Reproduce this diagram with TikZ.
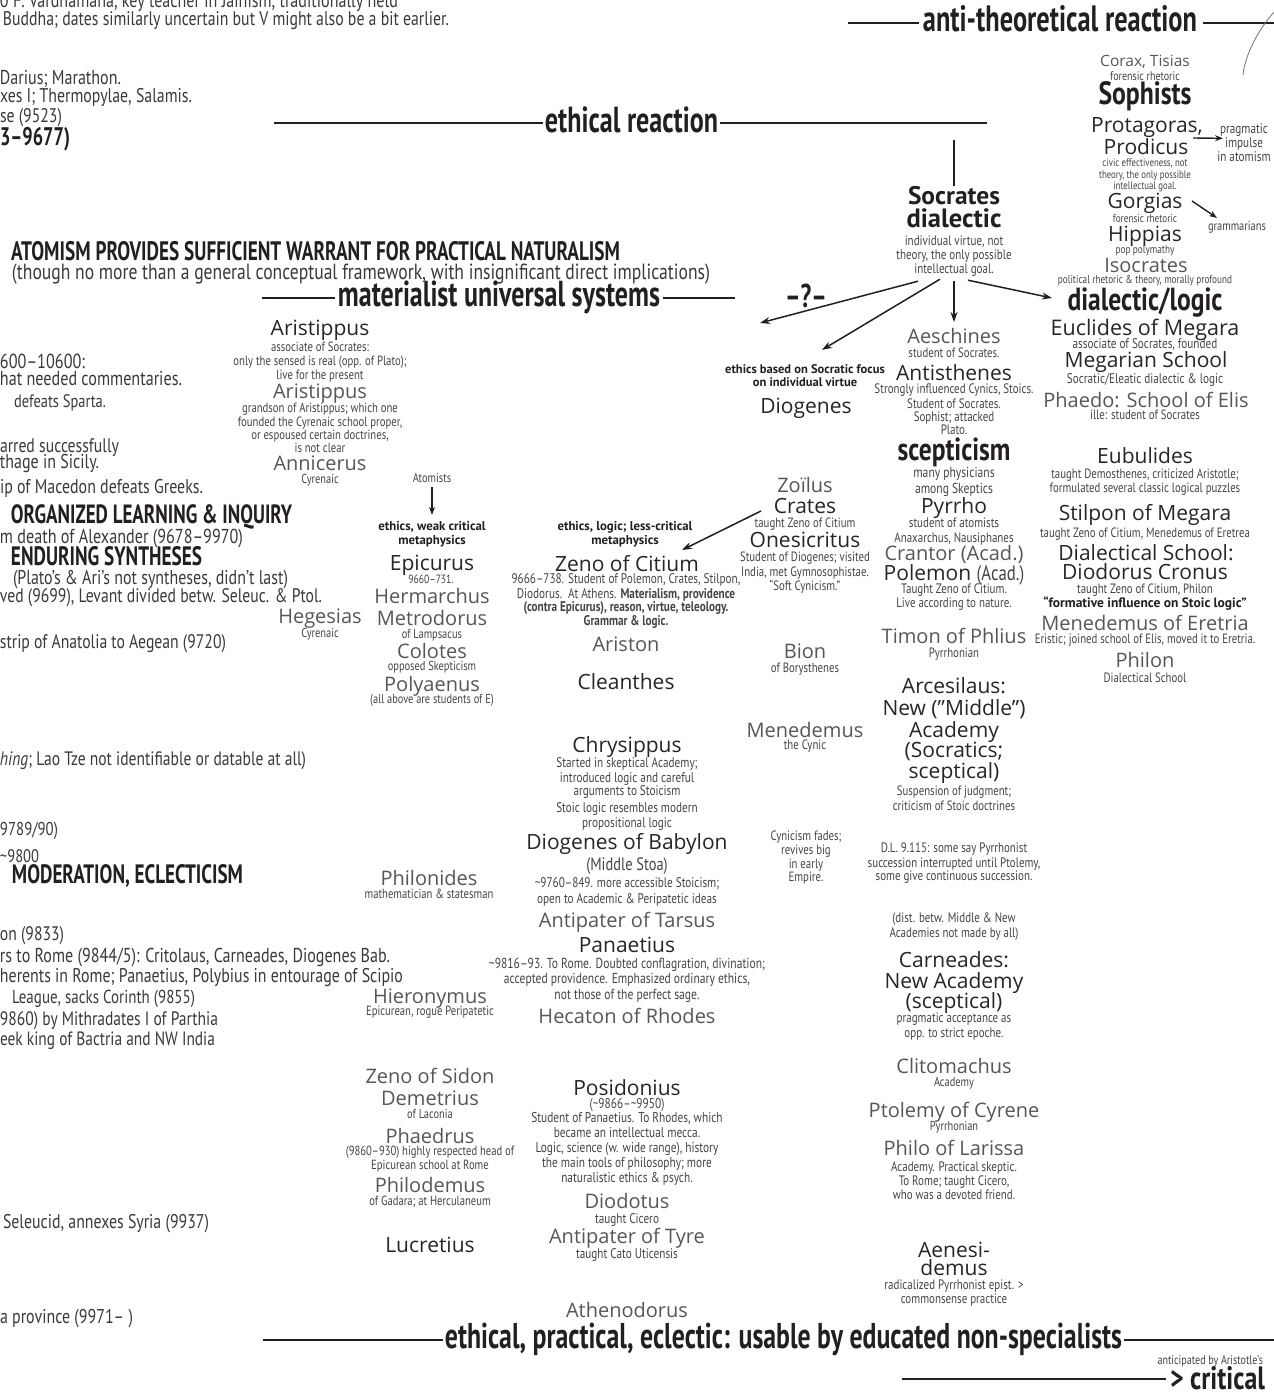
\documentclass[tikz,border=0pt]{standalone}
\usepackage{fontspec}
\usepackage{graphicx}
\usetikzlibrary{arrows.meta,calc}
\newfontfamily\cnd[FakeStretch=0.8]{PT Sans}
\newfontfamily\hdf[FakeStretch=0.72]{PT Sans}
\newfontfamily\pts{PT Sans}
\newfontfamily\nm{Open Sans}
\newcommand\myfs[2]{\fontsize{#1}{#2}\selectfont}
\newcommand\rw[2]{\resizebox{#1pt}{!}{#2}}
\definecolor{ink}{HTML}{231F20}
\definecolor{leftc}{HTML}{3A3A3A}
\definecolor{notec}{HTML}{454545}
\definecolor{lightc}{HTML}{575757}
\definecolor{darkc}{HTML}{262626}
\tikzset{
  every node/.style={inner sep=0pt, outer sep=0pt},
  lt/.style={anchor=base west, font=\cnd\myfs{20}{22}, text=leftc},
  ltb/.style={anchor=base west, font=\hdf\bfseries\myfs{20}{22}, text=ink},
  hd/.style={anchor=base, font=\hdf\bfseries\myfs{24}{26}, text=ink},
  hdc/.style={anchor=base, font=\cnd\bfseries\myfs{24}{26}, text=ink},
  nmL/.style={anchor=base, font=\nm\myfs{20}{22}, text=lightc},
  nmD/.style={anchor=base, font=\nm\myfs{21}{23}, text=darkc},
  nt/.style 2 args={anchor=north, yshift={0.7*#2}, align=center, font=\cnd\myfs{#1}{#2}, text=notec},
  ntb/.style 2 args={nt={#1}{#2}, font=\pts\bfseries\myfs{#1}{#2}, text=ink},
  cn/.style={anchor=base, font=\cnd\myfs{18}{20}, text=notec},
  rule/.style={line width=2pt, draw=ink},
  arr/.style={-{Stealth[length=10pt,width=7pt]}, line width=1.5pt, draw=ink},
  arrs/.style={-{Stealth[length=8pt,width=6pt]}, line width=1.4pt, draw=ink},
}
\begin{document}
\begin{tikzpicture}[x=1pt,y=-1pt]
\path[use as bounding box] (0,0) rectangle (1274,1395);
\clip (0,0) rectangle (1274,1395);
\fill[white] (0,0) rectangle (1274,1395);

% ---------- left column texts ----------
\node[lt] (t1) at (0,7) {\rw{398}{0 F. Vardhamana, key teacher in Jainism, traditionally held}};
\node[lt] (t2) at (3,25) {\rw{446}{Buddha; dates similarly uncertain but V might also be a bit earlier.}};
\node[lt] (t3) at (0,84) {\rw{121}{Darius; Marathon.}};
\node[lt] (t4) at (0,102) {\rw{192}{xes I; Thermopylae, Salamis.}};
\node[lt] (t5) at (0,122) {\rw{62}{se (9523)}};
\node[ltb] (t6) at (0,145) {\rw{70}{3–9677)}};
\node[ltb] (t7) at (11,260) {\rw{609}{ATOMISM PROVIDES SUFFICIENT WARRANT FOR PRACTICAL NATURALISM}};
\node[lt] (t8) at (12,279) {\rw{698}{(though no more than a general conceptual framework, with insignificant direct implications)}};
\node[lt] (t9) at (0,368) {\rw{85}{600–10600:}};
\node[lt] (t10) at (0,385) {\rw{182}{hat needed commentaries.}};
\node[lt] (t11) at (14,407) {\rw{92}{defeats Sparta.}};
\node[lt] (t12) at (0,452) {\rw{119}{arred successfully}};
\node[lt] (t13) at (0,468) {\rw{99}{thage in Sicily.}};
\node[lt] (t14) at (0,493) {\rw{203}{ip of Macedon defeats Greeks.}};
\node[ltb] (t15) at (11,523) {\rw{281}{ORGANIZED LEARNING \& INQUIRY}};
\node[lt] (t16) at (0,543) {\rw{243}{m death of Alexander (9678–9970)}};
\node[ltb] (t17) at (11,565) {\rw{191}{ENDURING SYNTHESES}};
\node[lt] (t18) at (13,584) {\rw{275}{(Plato’s \& Ari’s not syntheses, didn’t last)}};
\node[lt] (t19) at (0,602) {\rw{322}{ved (9699), Levant divided betw. Seleuc. \& Ptol.}};
\node[lt] (t20) at (0,648) {\rw{226}{strip of Anatolia to Aegean (9720)}};
\node[lt] (t21) at (0,765) {\rw{306}{{\itshape hing}; Lao Tze not identifiable or datable at all)}};
\node[lt] (t22) at (0,835) {\rw{58}{9789/90)}};
\node[lt] (t23) at (0,862) {\rw{39}{\textasciitilde 9800}};
\node[ltb] (t24) at (12,883) {\rw{231}{MODERATION, ECLECTICISM}};
\node[lt] (t25) at (0,940) {\rw{64}{on (9833)}};
\node[lt] (t26) at (0,962) {\rw{390}{rs to Rome (9844/5): Critolaus, Carneades, Diogenes Bab.}};
\node[lt] (t27) at (0,982) {\rw{403}{herents in Rome; Panaetius, Polybius in entourage of Scipio}};
\node[lt] (t28) at (12,1003) {\rw{183}{League, sacks Corinth (9855)}};
\node[lt] (t29) at (0,1025) {\rw{218}{9860) by Mithradates I of Parthia}};
\node[lt] (t30) at (0,1045) {\rw{215}{eek king of Bactria and NW India}};
\node[lt] (t31) at (3,1228) {\rw{206}{Seleucid, annexes Syria (9937)}};
\node[lt] (t32) at (0,1323) {\rw{133}{a province (9971– )}};

% ---------- headlines ----------
\node[hd] (antith) at (1060,31) {\rw{274}{anti-theoretical reaction}};
\draw[rule] ($(antith.base west)+(-75,-8)$) -- ($(antith.base west)+(-4,-8)$);
\draw[rule] ($(antith.base east)+(6,-8)$) -- ($(antith.base east)+(77,-8)$);
\draw[black!55, line width=0.8pt] (1274,12) .. controls (1258,30) and (1245,55) .. (1243,75);

\node[hd] (er) at (631.5,132) {\rw{173}{ethical reaction}};
\draw[rule] ($(er.base west)+(-271,-9)$) -- ($(er.base west)+(-2,-9)$);
\draw[rule] ($(er.base east)+(2,-9)$) -- ($(er.base east)+(269,-9)$);

\node[hd] (mat) at (499,306) {\rw{322}{materialist universal systems}};
\draw[rule] ($(mat.base west)+(-76,-8)$) -- ($(mat.base west)+(-3,-8)$);
\draw[rule] ($(mat.base east)+(3,-8)$) -- ($(mat.base east)+(75,-8)$);
\node[hd] (qm) at (806,307) {\rw{42}{–?–}};

\node[hd] (bot) at (783.5,1348) {\rw{677}{ethical, practical, eclectic: usable by educated non-specialists}};
\draw[rule] ($(bot.base west)+(-182,-8)$) -- ($(bot.base west)+(-2,-8)$);
\draw[rule] ($(bot.base east)+(2,-8)$) -- ($(bot.base east)+(152,-8)$);

\node[nt={12.6}{13}, anchor=north east] (antic) at (1263,1364) {\strut anticipated by Aristotle’s};
\node[hdc, anchor=base east] (crit) at (1265,1389) {\rw{95}{> critical}};
\draw[rule] ($(crit.base west)+(-268,-10)$) -- ($(crit.base west)+(-4,-10)$);

% ---------- Cyrenaics ----------
\node[nmD] (arist1) at (320,335) {Aristippus};
\node[nt={13.4}{13.5}] (arist1n) at (320,351) {\strut associate of Socrates:\\only the sensed is real (opp. of Plato);\\live for the present};
\node[nmL] (arist2) at (320,398) {Aristippus};
\node[nt={13.4}{13}] (arist2n) at (320,412) {\strut grandson of Aristippus; which one\\founded the Cyrenaic school proper,\\or espoused certain doctrines,\\is not clear};
\node[nmL] (annic) at (320,470) {Annicerus};
\node[nt={13}{13.5}] (annicn) at (320,483) {\strut Cyrenaic};
\node[nmL] (heges) at (320,623) {Hegesias};
\node[nt={13}{13.5}] (hegesn) at (320,637) {\strut Cyrenaic};

% ---------- Epicureans ----------
\node[nt={13}{13.5}] (atom) at (432,482) {\strut Atomists};
\node[ntb={12.8}{13}] (ewk) at (432,530) {\strut ethics, weak critical\\metaphysics};
\draw[arrs] ($(atom.north)+(0,14)$) -- ($(ewk.north)+(0,-6)$);
\node[nmD] (epic) at (432,570) {Epicurus};
\node[nt={12}{13}] (epicn) at (431,583) {\strut 9660–731.};
\node[nmL] (herm) at (432,603) {Hermarchus};
\node[nmL] (metro) at (432,625) {Metrodorus};
\node[nt={13}{13}] (metron) at (432,638) {\strut of Lampsacus};
\node[nmL] (colot) at (432,658) {Colotes};
\node[nt={13}{13}] (colotn) at (432,670) {\strut opposed Skepticism};
\node[nmL] (polya) at (432,691) {Polyaenus};
\node[nt={13}{13}] (polyan) at (432,703) {\strut (all above are students of E)};

% ---------- lower left ----------
\node[nmL] (philnd) at (429,885) {Philonides};
\node[nt={13.3}{13}] (philndn) at (429,898) {\strut mathematician \& statesman};
\node[nmL] (hieron) at (430,1003) {Hieronymus};
\node[nt={13.3}{13}] (hieronn) at (430,1015) {\strut Epicurean, rogue Peripatetic};
\node[nmL] (zsid) at (430,1083) {Zeno of Sidon};
\node[nmL] (demet) at (430,1105) {Demetrius};
\node[nt={13}{13}] (demetn) at (430,1118) {\strut of Laconia};
\node[nmL] (phaedr) at (430,1143) {Phaedrus};
\node[nt={13.3}{14.5}] (phaedrn) at (430,1155) {\strut (9860–930) highly respected head of\\Epicurean school at Rome};
\node[nmL] (philod) at (430,1192) {Philodemus};
\node[nt={13.3}{13}] (philodn) at (430,1205) {\strut of Gadara; at Herculaneum};
\node[nmD] (lucr) at (430,1252) {Lucretius};

% ---------- Stoics ----------
\node[ntb={12.8}{13}] (elg) at (625,530) {\strut ethics, logic; less-critical\\metaphysics};
\node[nmD] (zeno) at (627,571) {Zeno of Citium};
\node[nt={14}{13.4}] (zenon) at (626,583) {\strut 9666–738. Student of Polemon, Crates, Stilpon,\\Diodorus.\ \ At Athens. \textbf{Materialism, providence}\\\textbf{(contra Epicurus), reason, virtue, teleology.}\\\textbf{Grammar \& logic.}};
\node[nmL] (ariston) at (626,651) {Ariston};
\node[nmD] (clean) at (626,689) {Cleanthes};
\node[nmD] (chrys) at (627,752) {Chrysippus};
\node[nt={14}{13}] (chrysn) at (627,767) {\strut Started in skeptical Academy;\\introduced logic and careful\\arguments to Stoicism};
\node[nt={14}{13}] (stoiclog) at (627,812) {\strut Stoic logic resembles modern\\propositional logic};
\node[nmD] (diogb) at (627,849) {Diogenes of Babylon};
\node[cn] (midstoa) at (627,870) {(Middle Stoa)};
\node[nt={14}{16}] (diogbn) at (627,887) {\strut \textasciitilde 9760–849. more accessible Stoicism;\\open to Academic \& Peripatetic ideas};
\node[nmL] (antit) at (627,927) {Antipater of Tarsus};
\node[nmD] (panae) at (627,952) {Panaetius};
\node[nt={14.5}{15.5}] (panaen) at (627,968) {\strut \textasciitilde 9816–93. To Rome. Doubted conflagration, divination;\\accepted providence. Emphasized ordinary ethics,\\not those of the perfect sage.};
\node[nmL] (hecat) at (627,1023) {Hecaton of Rhodes};
\node[nmD] (posid) at (627,1095) {Posidonius};
\node[nt={14.2}{14.8}] (posidn) at (627,1108) {\strut (\textasciitilde 9866–\textasciitilde 9950)\\Student of Panaetius. To Rhodes, which\\became an intellectual mecca.\\Logic, science (w. wide range), history\\the main tools of philosophy; more\\naturalistic ethics \& psych.};
\node[nmL] (diodot) at (627,1208) {Diodotus};
\node[nt={14}{14}] (diodotn) at (627,1223) {\strut taught Cicero};
\node[nmL] (antity) at (627,1243) {Antipater of Tyre};
\node[nt={14}{14}] (antityn) at (627,1258) {\strut taught Cato Uticensis};
\node[nmL] (athen) at (627,1317) {Athenodorus};

% ---------- Cynics ----------
\node[ntb={12.5}{13}] (ethb) at (805,373) {\strut ethics based on Socratic focus\\on individual virtue};
\node[nmD] (diog) at (806,413) {Diogenes};
\node[nmL] (zoil) at (805,492) {Zoïlus};
\node[nmD] (crates) at (805,513) {Crates};
\node[nt={13.5}{13.5}] (cratesn) at (805,527) {\strut taught Zeno of Citium};
\node[nmD] (onesi) at (805,547) {Onesicritus};
\node[nt={13.5}{13}] (onesin) at (805,561) {\strut Student of Diogenes; visited\\India, met Gymnosophistae.\\“Soft Cynicism.”};
\draw[arr] ($(crates.base)+(-44,-2)$) -- ($(zeno.base)+(55,-21)$);
\node[nmL] (bion) at (805,658) {Bion};
\node[nt={13.5}{13}] (bionn) at (805,672) {\strut of Borysthenes};
\node[nmL] (mened) at (805,737) {Menedemus};
\node[nt={13.5}{13}] (menedn) at (805,749) {\strut the Cynic};
\node[nt={13.5}{13.5}] (cynf) at (806,840) {\strut Cynicism fades;\\revives big\\in early\\Empire.};

% ---------- Socrates column ----------
\node[anchor=base, font=\pts\bfseries\myfs{20}{22}, text=ink] (socr) at (954,204) {\rw{92}{Socrates}};
\node[anchor=base, font=\pts\bfseries\myfs{20}{22}, text=ink] (dialc) at (954,227) {\rw{95}{dialectic}};
\node[nt={13.8}{14}] (socn) at (954,245) {\strut individual virtue, not\\theory, the only possible\\intellectual goal.};
\draw[line width=1.2pt, draw=ink] ($(socr.base)+(0,-64)$) -- ($(socr.base)+(0,-18)$);
\node[nmL] (aesch) at (954,343) {Aeschines};
\node[nt={13.5}{13.5}] (aeschn) at (954,357) {\strut student of Socrates.};
\node[nmD] (antis) at (954,380) {Antisthenes};
\node[nt={13.7}{13}] (antisn) at (954,393) {\strut Strongly influenced Cynics, Stoics.\\Student of Socrates.\\Sophist; attacked\\Plato.};
\node[hdc] (scep) at (954,460) {\rw{113}{scepticism}};
\node[nt={14.5}{13.5}] (scepn) at (954,477) {\strut many physicians\\among Skeptics};
\node[nmD] (pyrrho) at (954,513) {Pyrrho};
\node[nt={13.7}{13}] (pyrrhon) at (954,527) {\strut student of atomists\\Anaxarchus, Nausiphanes};
\node[nmL] (crant) at (954,560) {Crantor (Acad.)};
\node[nmD] (polem) at (954,580) {Polemon {\cnd\myfs{21}{23}\color{notec}(Acad.)}};
\node[nt={13.7}{14}] (polemn) at (954,593) {\strut Taught Zeno of Citium.\\Live according to nature.};
\node[nmL] (timon) at (954,643) {Timon of Phlius};
\node[nt={13.5}{13}] (timonn) at (954,657) {\strut Pyrrhonian};
\node[nmD] (arc1) at (954,693) {Arcesilaus:};
\node[nmD] (arc2) at (954,715) {New (”Middle”)};
\node[nmD] (arc3) at (954,737) {Academy};
\node[nmD] (arc4) at (954,757) {(Socratics;};
\node[nmD] (arc5) at (954,778) {sceptical)};
\node[nt={13.5}{15}] (arcn) at (954,795) {\strut Suspension of judgment;\\criticism of Stoic doctrines};
\node[nt={13.7}{13}] (dln) at (954,852) {\strut D.L. 9.115: some say Pyrrhonist\\succession interrupted until Ptolemy,\\some give continuous succession.};
\node[nt={13.7}{13}] (distn) at (954,922) {\strut (dist. betw. Middle \& New\\Academies not made by all)};
\node[nmD] (carn1) at (954,967) {Carneades:};
\node[nmD] (carn2) at (954,988) {New Academy};
\node[nmD] (carn3) at (954,1008) {(sceptical)};
\node[nt={13.7}{15}] (carnn) at (954,1022) {\strut pragmatic acceptance as\\opp. to strict epoche.};
\node[nmL] (clito) at (954,1073) {Clitomachus};
\node[nt={13}{13}] (clitn) at (954,1086) {\strut Academy};
\node[nmL] (ptol) at (954,1117) {Ptolemy of Cyrene};
\node[nt={13}{13}] (ptoln) at (954,1130) {\strut Pyrrhonian};
\node[nmL] (philo) at (954,1155) {Philo of Larissa};
\node[nt={13.7}{12.5}] (philon) at (954,1170) {\strut Academy. Practical skeptic.\\To Rome; taught Cicero,\\who was a devoted friend.};
\node[nmD] (aen1) at (954,1257) {Aenesi-};
\node[nmD] (aen2) at (954,1275) {demus};
\node[nt={13.7}{14}] (aenn) at (954,1289) {\strut radicalized Pyrrhonist epist. >\\commonsense practice};

% ---------- Sophists / dialectic column ----------
\node[nmL, font=\nm\myfs{15.5}{17}] (corax) at (1145,66) {Corax, Tisias};
\node[nt={12.5}{13}] (coraxn) at (1145,80) {\strut forensic rhetoric};
\node[hdc] (soph) at (1145,104) {\rw{93}{Sophists}};
\node[nmD] (prot) at (1147,132) {Protagoras,};
\node[nmD] (prod) at (1146,154) {Prodicus};
\node[nt={11}{10}] (prodn) at (1145,166) {\strut civic effectiveness, not\\theory, the only possible\\intellectual goal.};
\node[nt={14}{11}] (prag) at (1244,131) {\strut pragmatic\\impulse\\in atomism};
\draw[arrs] ($(prot.base)+(46,6)$) -- ($(prag.north)+(-21,15)$);
\node[nmD] (gorg) at (1145,208) {Gorgias};
\node[nt={11.5}{11}] (gorgn) at (1145,222) {\strut forensic rhetoric};
\node[nt={13}{13}] (gram) at (1237,230) {\strut grammarians};
\draw[arrs] ($(gorg.base)+(47,-7)$) -- ($(gram.north)+(-20,-3)$);
\node[nmD] (hipp) at (1145,241) {Hippias};
\node[nt={11.5}{11}] (hippn) at (1145,253) {\strut pop polymathy};
\node[nmL] (isoc) at (1146,272) {Isocrates};
\node[nt={11.5}{11}] (isocn) at (1145,283) {\strut political rhetoric \& theory, morally profound};
\node[hdc] (dl) at (1145,310) {\rw{155}{dialectic/logic}};
\node[nmD, font=\nm\myfs{21.5}{23}] (eucl) at (1145,335) {Euclides of Megara};
\node[nt={14}{14}] (eucln) at (1145,348) {\strut associate of Socrates, founded};
\node[nmD] (megs) at (1146,367) {Megarian School};
\node[nt={14}{14}] (megsn) at (1145,383) {\strut Socratic/Eleatic dialectic \& logic};
\node[nmL] (phaedo) at (1146,407) {Phaedo: School of Elis};
\node[nt={13.5}{13.5}] (phaedon) at (1145,419) {\strut ille: student of Socrates};
\node[nmD] (eubul) at (1145,463) {Eubulides};
\node[nt={13.5}{14}] (eubuln) at (1145,478) {\strut taught Demosthenes, criticized Aristotle;\\formulated several classic logical puzzles};
\node[nmD] (stilp) at (1145,520) {Stilpon of Megara};
\node[nt={13.5}{14}] (stilpn) at (1145,537) {\strut taught Zeno of Citium, Menedemus of Eretrea};
\node[nmD] (dials) at (1146,560) {Dialectical School:};
\node[nmD] (diodc) at (1145,579) {Diodorus Cronus};
\node[nt={13.5}{13}] (diodcn) at (1145,593) {\strut taught Zeno of Citium, Philon};
\node[ntb={13.5}{13}] (format) at (1145,606) {\strut “formative influence on Stoic logic”};
\node[nmL] (meneret) at (1145,630) {Menedemus of Eretria};
\node[nt={13.5}{13}] (meneretn) at (1145,643) {\strut Eristic; joined school of Elis, moved it to Eretria.};
\node[nmL] (philon2) at (1145,667) {Philon};
\node[nt={13.5}{13}] (philon2n) at (1145,682) {\strut Dialectical School};

% ---------- arrows from Socrates ----------
\draw[arr] ($(socn.north)+(14,45)$) -- ($(dl.base)+(-93,-12)$);
\draw[arr] ($(socn.north)+(0,46)$) -- ($(aesch.base)+(0,-21)$);
\draw[arr] ($(socn.north)+(-14,44)$) -- ($(ethb.north)+(17,-14)$);
\draw[arr] ($(socn.north)+(-36,46)$) -- ($(qm.base)+(-46,16)$);
\end{tikzpicture}
\end{document}
